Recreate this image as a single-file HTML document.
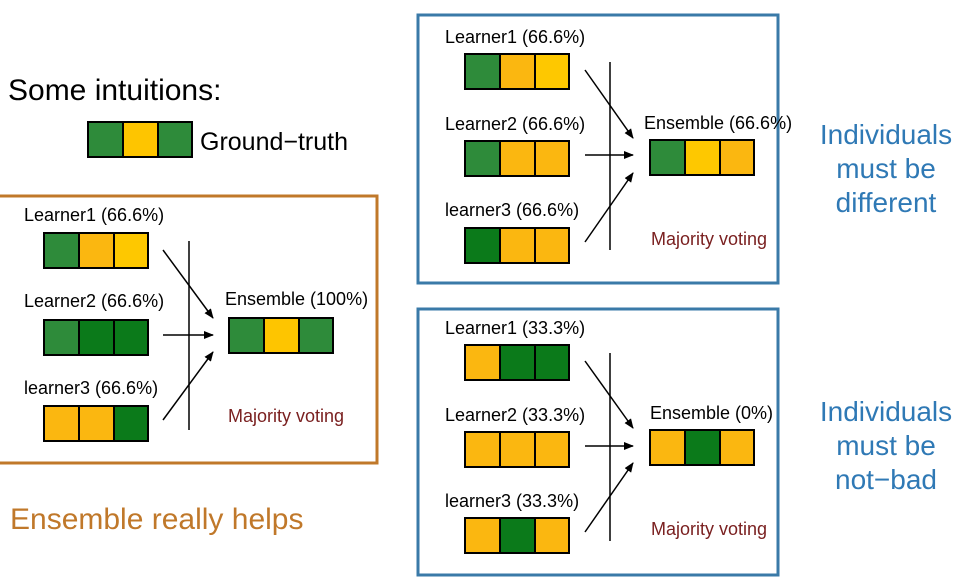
<!DOCTYPE html>
<html><head><meta charset="utf-8"><style>
html,body{margin:0;padding:0;background:#fff;}
svg{display:block;font-family:"Liberation Sans",Arial,sans-serif;}
</style></head><body>
<svg width="973" height="584" viewBox="0 0 973 584" xmlns="http://www.w3.org/2000/svg">
<defs>
<marker id="ah" markerWidth="10" markerHeight="8" refX="9" refY="4" orient="auto" markerUnits="userSpaceOnUse">
<path d="M0,0 L10,4 L0,8 z" fill="#000"/></marker>
</defs>
<rect width="973" height="584" fill="#fff"/>
<text x="8" y="100" font-size="30" fill="#000">Some intuitions:</text>
<g stroke="#000" stroke-width="2">
<rect x="88" y="122" width="35" height="35" fill="#2e8b3a"/><rect x="123" y="122" width="35" height="35" fill="#fec500"/><rect x="158" y="122" width="34" height="35" fill="#2e8b3a"/>
</g>
<text x="200" y="150" font-size="25" fill="#000">Ground−truth</text>

<!-- left box -->
<rect x="-2" y="196" width="379" height="267" fill="none" stroke="#c0782a" stroke-width="3"/>
<g font-size="18" fill="#000">
<text x="24" y="221">Learner1 (66.6%)</text>
<text x="24" y="307">Learner2 (66.6%)</text>
<text x="24" y="394">learner3 (66.6%)</text>
<text x="225" y="305">Ensemble (100%)</text>
</g>
<text x="228" y="422" font-size="18" fill="#7a2020">Majority voting</text>
<g stroke="#000" stroke-width="2">
<rect x="44" y="233" width="35" height="35" fill="#2e8b3a"/><rect x="79" y="233" width="35" height="35" fill="#fbb710"/><rect x="114" y="233" width="34" height="35" fill="#fec800"/>
<rect x="44" y="320" width="35" height="35" fill="#2e8b3a"/><rect x="79" y="320" width="35" height="35" fill="#0b7a1a"/><rect x="114" y="320" width="34" height="35" fill="#0b7a1a"/>
<rect x="44" y="406" width="35" height="35" fill="#fbb710"/><rect x="79" y="406" width="35" height="35" fill="#fbb710"/><rect x="114" y="406" width="34" height="35" fill="#0b7a1a"/>
<rect x="229" y="318" width="35" height="35" fill="#2e8b3a"/><rect x="264" y="318" width="35" height="35" fill="#fec500"/><rect x="299" y="318" width="34" height="35" fill="#2e8b3a"/>
</g>
<g stroke="#000" stroke-width="1.5" fill="none">
<line x1="189" y1="241" x2="189" y2="430"/>
<line x1="163" y1="250" x2="213" y2="318" marker-end="url(#ah)"/>
<line x1="163" y1="335" x2="213" y2="335" marker-end="url(#ah)"/>
<line x1="163" y1="420" x2="213" y2="352" marker-end="url(#ah)"/>
</g>
<text x="10" y="529" font-size="30" fill="#c0782a">Ensemble really helps</text>

<!-- top right box -->
<rect x="418" y="15" width="360" height="268" fill="none" stroke="#3a7aa8" stroke-width="3"/>
<g font-size="18" fill="#000">
<text x="445" y="43">Learner1 (66.6%)</text>
<text x="445" y="130">Learner2 (66.6%)</text>
<text x="445" y="216">learner3 (66.6%)</text>
<text x="644" y="129">Ensemble (66.6%)</text>
</g>
<text x="651" y="245" font-size="18" fill="#7a2020">Majority voting</text>
<g stroke="#000" stroke-width="2">
<rect x="465" y="54" width="35" height="35" fill="#2e8b3a"/><rect x="500" y="54" width="35" height="35" fill="#fbb710"/><rect x="535" y="54" width="34" height="35" fill="#fec800"/>
<rect x="465" y="141" width="35" height="35" fill="#2e8b3a"/><rect x="500" y="141" width="35" height="35" fill="#fbb710"/><rect x="535" y="141" width="34" height="35" fill="#fbb710"/>
<rect x="465" y="228" width="35" height="35" fill="#0b7a1a"/><rect x="500" y="228" width="35" height="35" fill="#fbb710"/><rect x="535" y="228" width="34" height="35" fill="#fbb710"/>
<rect x="650" y="140" width="35" height="35" fill="#2e8b3a"/><rect x="685" y="140" width="35" height="35" fill="#fec800"/><rect x="720" y="140" width="34" height="35" fill="#fbb710"/>
</g>
<g stroke="#000" stroke-width="1.5" fill="none">
<line x1="610" y1="62" x2="610" y2="250"/>
<line x1="585" y1="70" x2="633" y2="138" marker-end="url(#ah)"/>
<line x1="585" y1="155" x2="633" y2="155" marker-end="url(#ah)"/>
<line x1="585" y1="242" x2="633" y2="173" marker-end="url(#ah)"/>
</g>
<g font-size="28" fill="#2f79b5" text-anchor="middle">
<text x="886" y="144">Individuals</text><text x="886" y="178">must be</text><text x="886" y="212">different</text>
</g>

<!-- bottom right box -->
<rect x="418" y="309" width="360" height="266" fill="none" stroke="#3a7aa8" stroke-width="3"/>
<g font-size="18" fill="#000">
<text x="445" y="334">Learner1 (33.3%)</text>
<text x="445" y="421">Learner2 (33.3%)</text>
<text x="445" y="507">learner3 (33.3%)</text>
<text x="650" y="419">Ensemble (0%)</text>
</g>
<text x="651" y="535" font-size="18" fill="#7a2020">Majority voting</text>
<g stroke="#000" stroke-width="2">
<rect x="465" y="345" width="35" height="35" fill="#fbb710"/><rect x="500" y="345" width="35" height="35" fill="#0b7a1a"/><rect x="535" y="345" width="34" height="35" fill="#0b7a1a"/>
<rect x="465" y="432" width="35" height="35" fill="#fbb710"/><rect x="500" y="432" width="35" height="35" fill="#fbb710"/><rect x="535" y="432" width="34" height="35" fill="#fbb710"/>
<rect x="465" y="518" width="35" height="35" fill="#fbb710"/><rect x="500" y="518" width="35" height="35" fill="#0b7a1a"/><rect x="535" y="518" width="34" height="35" fill="#fbb710"/>
<rect x="650" y="430" width="35" height="35" fill="#fbb710"/><rect x="685" y="430" width="35" height="35" fill="#0b7a1a"/><rect x="720" y="430" width="34" height="35" fill="#fbb710"/>
</g>
<g stroke="#000" stroke-width="1.5" fill="none">
<line x1="610" y1="353" x2="610" y2="541"/>
<line x1="585" y1="361" x2="633" y2="428" marker-end="url(#ah)"/>
<line x1="585" y1="446" x2="633" y2="446" marker-end="url(#ah)"/>
<line x1="585" y1="532" x2="633" y2="463" marker-end="url(#ah)"/>
</g>
<g font-size="28" fill="#2f79b5" text-anchor="middle">
<text x="886" y="421">Individuals</text><text x="886" y="455">must be</text><text x="886" y="489">not−bad</text>
</g>
</svg>
</body></html>
